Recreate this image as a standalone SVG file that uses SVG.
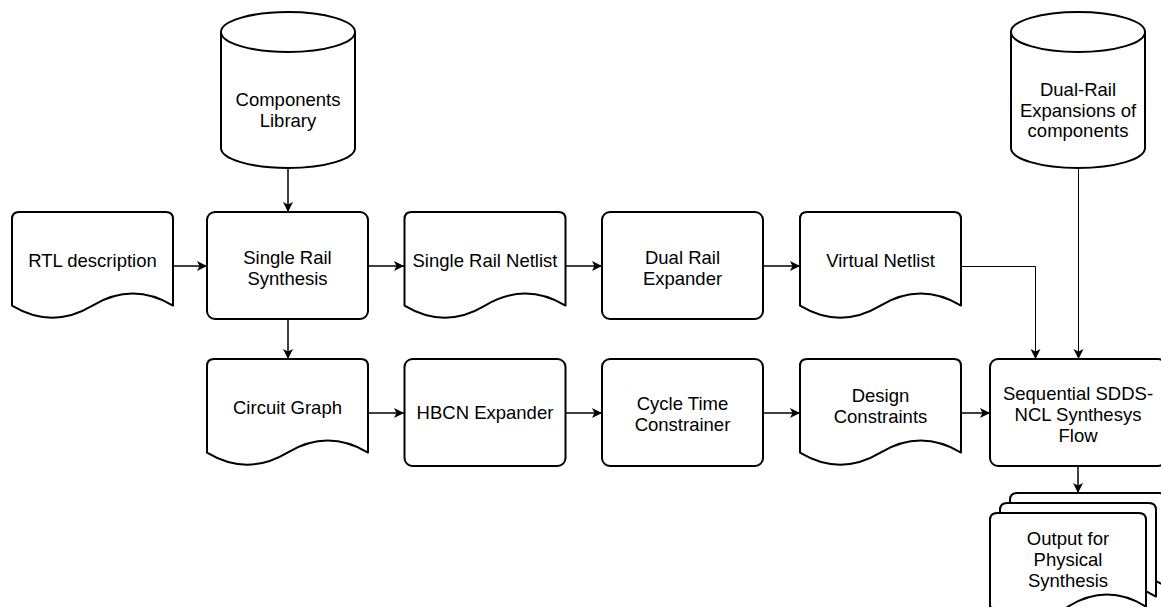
<svg xmlns="http://www.w3.org/2000/svg" xmlns:xlink="http://www.w3.org/1999/xlink" width="1161" height="607" viewBox="0 0 1161 607">
<style>
.s{fill:#fff;stroke:#000;stroke-width:2;stroke-linejoin:round}
.t{font-family:"Liberation Sans",Arial,Helvetica,sans-serif;font-size:18.5px;fill:#000;text-anchor:middle}
.c{fill:none;stroke:#000;stroke-width:1.5}
.c1{fill:none;stroke:#000;stroke-width:1}
</style>
<defs>
<path id="doc" d="M7,0 H154 Q161,0 161,7 V93.6 Q120.75,69.55 80.5,93.6 Q40.25,117.7 0,93.6 V7 Q0,0 7,0 Z"/>
<path id="doc2" d="M7,0 H149 Q156,0 156,7 V93.6 Q117,69.55 78,93.6 Q39,117.7 0,93.6 V7 Q0,0 7,0 Z"/>
<marker id="arr" markerUnits="userSpaceOnUse" markerWidth="11" markerHeight="10" refX="10" refY="5" orient="auto" overflow="visible">
<path d="M0,0 L10,5 L0,10 L2.5,5 Z" fill="#000"/>
</marker>
</defs>

<g id="connectors">
<path class="c" d="M173,266 H207" marker-end="url(#arr)"/>
<path class="c" d="M288,168 V212" marker-end="url(#arr)"/>
<path class="c" d="M368,266 H404" marker-end="url(#arr)"/>
<path class="c" d="M566,266 H602" marker-end="url(#arr)"/>
<path class="c" d="M763,266 H800" marker-end="url(#arr)"/>
<path class="c1" d="M961,266.5 H1035.5 V359" marker-end="url(#arr)"/>
<path class="c1" d="M1078.5,168 V359" marker-end="url(#arr)"/>
<path class="c" d="M288,319 V359" marker-end="url(#arr)"/>
<path class="c" d="M368,413 H404" marker-end="url(#arr)"/>
<path class="c" d="M565,413 H602" marker-end="url(#arr)"/>
<path class="c" d="M763,413 H800" marker-end="url(#arr)"/>
<path class="c" d="M961,413 H990" marker-end="url(#arr)"/>
<path class="c" d="M1078,466 V493" marker-end="url(#arr)"/>
</g>

<g id="components-library">
<path class="s" d="M221,32 A67,20 0 0 1 355,32 V148 A67,20 0 0 1 221,148 Z"/>
<path class="s" fill="none" d="M221,32 A67,20 0 0 0 355,32"/>
<text class="t" x="288" y="106">Components</text>
<text class="t" x="288" y="127">Library</text>
</g>

<g id="dual-rail-expansions">
<path class="s" d="M1011,32 A67,20 0 0 1 1145,32 V148 A67,20 0 0 1 1011,148 Z"/>
<path class="s" fill="none" d="M1011,32 A67,20 0 0 0 1145,32"/>
<text class="t" x="1078" y="96">Dual-Rail</text>
<text class="t" x="1078" y="116.5">Expansions of</text>
<text class="t" x="1078" y="137">components</text>
</g>

<g id="rtl-description">
<use href="#doc" xlink:href="#doc" class="s" x="12" y="212"/>
<text class="t" x="92.5" y="267">RTL description</text>
</g>

<g id="single-rail-synthesis">
<rect class="s" x="207" y="212" width="161" height="107" rx="8"/>
<text class="t" x="287.5" y="264">Single Rail</text>
<text class="t" x="287.5" y="284.5">Synthesis</text>
</g>

<g id="single-rail-netlist">
<use href="#doc" xlink:href="#doc" class="s" x="404.5" y="212"/>
<text class="t" x="485" y="267">Single Rail Netlist</text>
</g>

<g id="dual-rail-expander">
<rect class="s" x="602" y="212" width="161" height="107" rx="8"/>
<text class="t" x="682.5" y="264">Dual Rail</text>
<text class="t" x="682.5" y="284.5">Expander</text>
</g>

<g id="virtual-netlist">
<use href="#doc" xlink:href="#doc" class="s" x="800" y="212"/>
<text class="t" x="880.5" y="267">Virtual Netlist</text>
</g>

<g id="circuit-graph">
<use href="#doc" xlink:href="#doc" class="s" x="207" y="359"/>
<text class="t" x="287.5" y="414">Circuit Graph</text>
</g>

<g id="hbcn-expander">
<rect class="s" x="404.5" y="359" width="161" height="107" rx="8"/>
<text class="t" x="485" y="419">HBCN Expander</text>
</g>

<g id="cycle-time-constrainer">
<rect class="s" x="602" y="359" width="161" height="107" rx="8"/>
<text class="t" x="682.5" y="410">Cycle Time</text>
<text class="t" x="682.5" y="431">Constrainer</text>
</g>

<g id="design-constraints">
<use href="#doc" xlink:href="#doc" class="s" x="800" y="359"/>
<text class="t" x="880.5" y="402">Design</text>
<text class="t" x="880.5" y="423">Constraints</text>
</g>

<g id="sequential-flow">
<rect class="s" x="990" y="359" width="176" height="107" rx="8"/>
<text class="t" x="1078" y="400">Sequential SDDS-</text>
<text class="t" x="1078" y="421">NCL Synthesys</text>
<text class="t" x="1078" y="442">Flow</text>
</g>

<g id="output-physical-synthesis">
<use href="#doc2" xlink:href="#doc2" class="s" x="1010" y="493"/>
<use href="#doc2" xlink:href="#doc2" class="s" x="1000" y="503"/>
<use href="#doc2" xlink:href="#doc2" class="s" x="990" y="513"/>
<text class="t" x="1068" y="545">Output for</text>
<text class="t" x="1068" y="566">Physical</text>
<text class="t" x="1068" y="587">Synthesis</text>
</g>
</svg>
